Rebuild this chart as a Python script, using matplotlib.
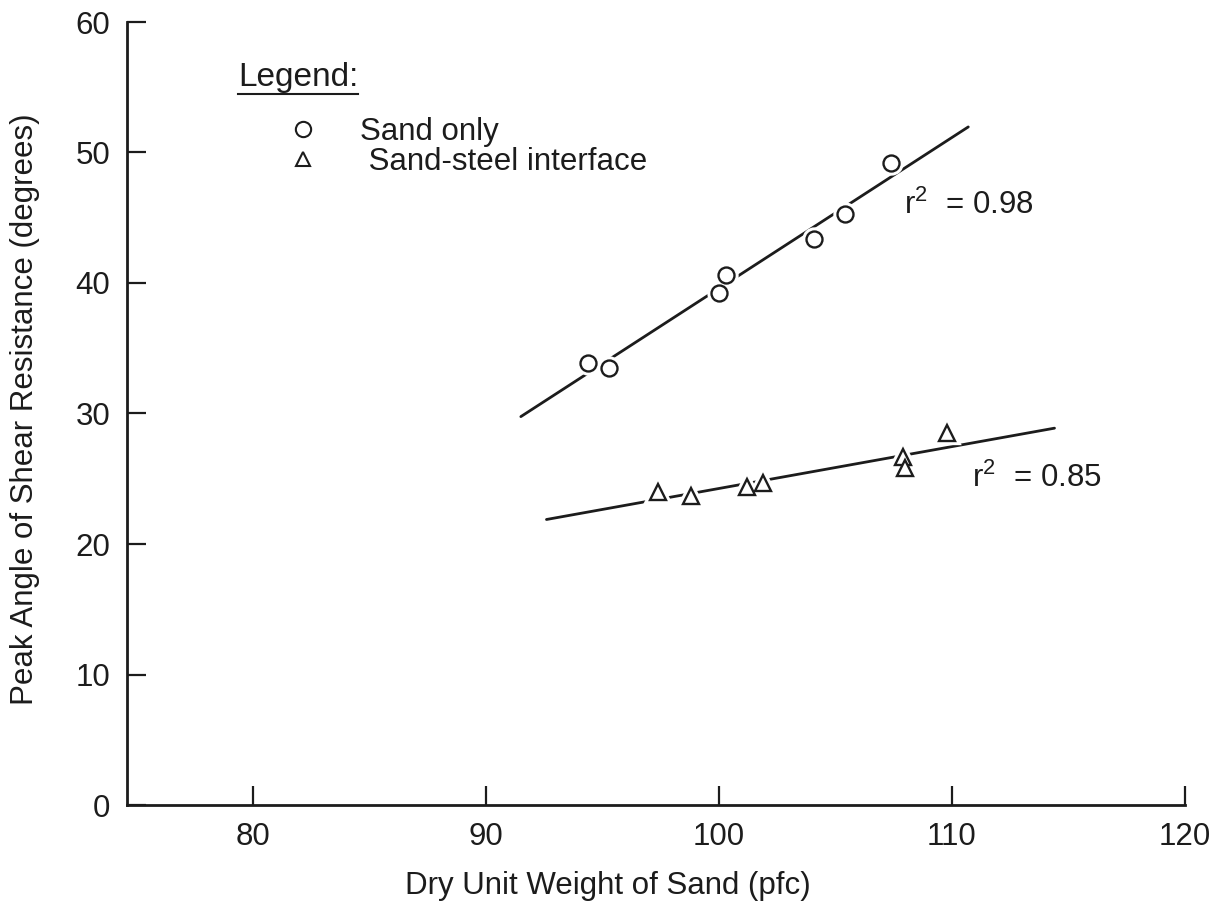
import matplotlib

matplotlib.use("Agg")
import matplotlib.lines as mlines
import matplotlib.pyplot as plt
import numpy as np

plt.rcParams["font.family"] = ["Liberation Sans", "DejaVu Sans"]
plt.rcParams["mathtext.default"] = "regular"

INK = "#1c1c1c"
FS = 22.5

# dry unit weight (pcf) vs peak friction angle (deg)
sand_x = [94.4, 95.3, 100.0, 100.3, 104.1, 105.4, 107.4]
sand_y = [33.9, 33.5, 39.2, 40.6, 43.4, 45.3, 49.2]
steel_x = [97.4, 98.8, 101.2, 101.9, 107.9, 108.0, 109.8]
steel_y = [24.0, 23.7, 24.4, 24.7, 26.7, 25.8, 28.5]

# extent of each fitted line
sand_fit_range = [91.5, 110.7]
steel_fit_range = [92.6, 114.4]

r2_labels = ["0.98", "0.85"]
x_ticks = [80, 90, 100, 110, 120]
y_ticks = [0, 10, 20, 30, 40, 50, 60]


def fit_line(ax, x, y, xr):
    slope, icpt = np.polyfit(x, y, 1)
    xr = np.array(xr)
    ax.plot(xr, slope * xr + icpt, color=INK, lw=2.0, zorder=2,
            solid_capstyle="round")


def plot_points(ax, x, y, marker, ms):
    # white halo breaks the fit line around each point
    ax.plot(x, y, ls="none", marker=marker, ms=ms, mfc="white", mec="white",
            mew=6, zorder=3)
    ax.plot(x, y, ls="none", marker=marker, ms=ms, mfc="white", mec=INK,
            mew=1.7, zorder=4)


fig = plt.figure(figsize=(12.25, 9.13), dpi=100)
ax = fig.add_axes([127 / 1225, 1 - 805 / 913, 1058 / 1225, 783 / 913])

ax.set_xlim(74.6, 120)
ax.set_ylim(0, 60)

fit_line(ax, sand_x, sand_y, sand_fit_range)
fit_line(ax, steel_x, steel_y, steel_fit_range)
plot_points(ax, sand_x, sand_y, "o", 11.5)
plot_points(ax, steel_x, steel_y, "^", 11.5)

for side in ["top", "right"]:
    ax.spines[side].set_visible(False)
for side in ["left", "bottom"]:
    ax.spines[side].set_linewidth(2.0)
    ax.spines[side].set_color(INK)

ax.set_xticks(x_ticks)
ax.set_yticks(y_ticks)
ax.tick_params(axis="both", direction="in", length=14, width=1.6,
               color=INK, labelcolor=INK, labelsize=FS)
ax.tick_params(axis="x", pad=12)
ax.tick_params(axis="y", pad=12)

ax.set_xlabel("Dry Unit Weight of Sand (pfc)", fontsize=FS, color=INK)
ax.xaxis.set_label_coords(0.4546, -0.103)
ax.xaxis.label.set_va("center")
ax.set_ylabel("Peak Angle of Shear Resistance (degrees)", fontsize=FS,
              color=INK)
ax.yaxis.set_label_coords(-0.0964, 0.506)
ax.yaxis.label.set_va("center")

# r-squared notes next to each fit
ax.text(107.94, 45.98, "r$^{2}$  = " + r2_labels[0], fontsize=FS, color=INK,
        va="center", ha="left")
ax.text(110.86, 25.06, "r$^{2}$  = " + r2_labels[1], fontsize=FS, color=INK,
        va="center", ha="left")

# legend block
title = ax.text(0.105, 0.9285, "Legend:", transform=ax.transAxes,
                fontsize=24, color=INK, va="center", ha="left")
handles = [
    mlines.Line2D([], [], ls="none", marker="o", ms=11, mfc="white",
                  mec=INK, mew=1.5),
    mlines.Line2D([], [], ls="none", marker="^", ms=10, mfc="white",
                  mec=INK, mew=1.5),
]
leg = ax.legend(handles, ["Sand only", " Sand-steel interface"],
                loc="upper left", bbox_to_anchor=(287 / 1225, 1 - 117 / 913),
                bbox_transform=fig.transFigure, frameon=False,
                fontsize=FS, handlelength=1.0, handletextpad=1.35,
                labelspacing=0.0, borderpad=0, borderaxespad=0)
for t in leg.get_texts():
    t.set_color(INK)

fig.canvas.draw()
bb = title.get_window_extent().transformed(fig.transFigure.inverted())
fig.add_artist(mlines.Line2D([bb.x0, bb.x1], [bb.y0 - 0.001, bb.y0 - 0.001],
                             transform=fig.transFigure, color=INK, lw=1.5))

fig.savefig("out.png", dpi=100)
